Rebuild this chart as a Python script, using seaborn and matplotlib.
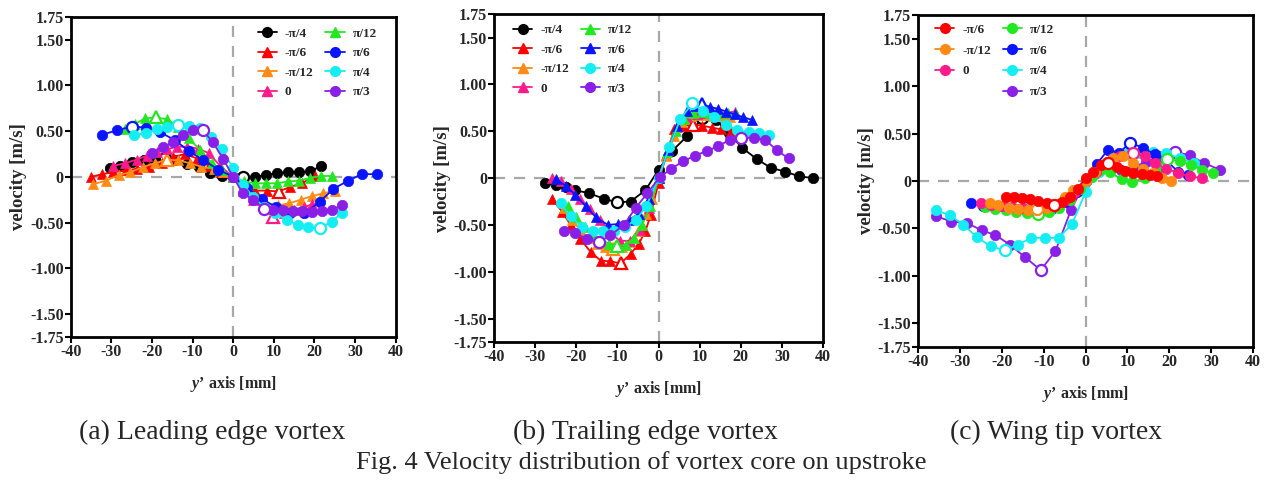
import matplotlib
matplotlib.use("Agg")
import matplotlib.pyplot as plt
import seaborn as sns
from matplotlib.lines import Line2D

# ---- data (y' in mm, velocity in m/s) ----
# (a) leading edge vortex
a_m4_x = [-30.3, -27.8, -25.0, -22.0, -19.6, -16.7, -14.3, -11.4, -8.5, -5.7, -2.8, 0.0, 2.5, 5.4, 8.0, 10.8, 13.6, 16.3, 19.0, 21.7]
a_m4_v = [0.10, 0.12, 0.16, 0.18, 0.20, 0.21, 0.18, 0.14, 0.11, 0.04, 0.01, 0.0, 0.0, 0.0, 0.02, 0.04, 0.05, 0.05, 0.06, 0.12]
a_m6_x = [-35.0, -32.3, -29.5, -26.5, -23.6, -20.6, -17.6, -14.7, -11.8, -8.8, -5.9, -2.9, 0.0, 2.7, 5.4, 8.3, 11.2, 14.0, 16.9, 20.2]
a_m6_v = [0.0, 0.03, 0.05, 0.07, 0.09, 0.11, 0.15, 0.22, 0.25, 0.20, 0.12, 0.05, 0.0, -0.08, -0.15, -0.15, -0.16, -0.11, -0.07, 0.01]
a_m12_x = [-34.4, -31.3, -28.2, -25.4, -22.1, -19.2, -16.3, -13.5, -10.6, -7.8, -4.8, -2.4, 0.0, 2.7, 5.4, 8.2, 11.0, 13.8, 16.6, 19.4, 22.2, 25.0]
a_m12_v = [-0.08, -0.04, 0.02, 0.05, 0.11, 0.15, 0.19, 0.18, 0.15, 0.11, 0.09, 0.05, 0.0, -0.10, -0.22, -0.29, -0.31, -0.29, -0.25, -0.21, -0.18, -0.15]
a_0_x = [-29.5, -26.6, -23.7, -21.3, -18.8, -16.3, -13.9, -11.3, -8.6, -6.0, -3.2, 0.0, 2.5, 5.0, 7.5, 9.8, 12.5, 15.0, 17.5, 19.5]
a_0_v = [0.12, 0.15, 0.19, 0.23, 0.27, 0.30, 0.33, 0.33, 0.31, 0.26, 0.12, 0.0, -0.15, -0.25, -0.33, -0.44, -0.40, -0.36, -0.33, -0.30]
a_p12_x = [-26.6, -24.1, -21.7, -19.0, -16.3, -13.6, -10.8, -8.1, -5.2, -2.8, 0.0, 2.7, 5.4, 8.0, 10.8, 13.6, 16.3, 19.0, 21.7, 24.3]
a_p12_v = [0.52, 0.58, 0.64, 0.65, 0.63, 0.55, 0.42, 0.29, 0.15, 0.07, 0.0, -0.05, -0.07, -0.07, -0.07, -0.05, -0.04, -0.01, 0.01, 0.01]
a_p6_x = [-32.3, -28.6, -25.0, -21.5, -18.0, -14.3, -10.8, -7.3, -3.6, 0.0, 3.5, 7.1, 10.5, 14.0, 17.5, 21.4, 24.7, 28.4, 31.7, 35.4]
a_p6_v = [0.46, 0.51, 0.55, 0.54, 0.49, 0.40, 0.28, 0.18, 0.08, 0.0, -0.12, -0.24, -0.33, -0.40, -0.40, -0.27, -0.13, -0.04, 0.03, 0.03]
a_p4_x = [-24.3, -21.5, -18.8, -16.3, -13.5, -10.8, -8.1, -5.5, -2.8, 0.0, 2.5, 5.0, 7.6, 10.3, 13.2, 16.1, 18.5, 21.4, 24.3, 26.8]
a_p4_v = [0.46, 0.48, 0.52, 0.55, 0.57, 0.56, 0.53, 0.44, 0.30, 0.10, -0.09, -0.22, -0.33, -0.40, -0.47, -0.53, -0.55, -0.56, -0.49, -0.39]
a_p3_x = [-20.0, -17.2, -14.7, -12.4, -9.9, -7.5, -5.0, -2.5, 0.0, 2.4, 5.0, 7.5, 9.9, 12.4, 14.7, 16.9, 19.4, 21.8, 24.3, 26.8]
a_p3_v = [0.26, 0.33, 0.38, 0.46, 0.51, 0.51, 0.38, 0.20, 0.0, -0.18, -0.25, -0.35, -0.36, -0.36, -0.37, -0.37, -0.38, -0.37, -0.36, -0.31]

# (b) trailing edge vortex
b_m4_x = [-27.5, -25.0, -22.6, -20.2, -17.0, -13.3, -10.0, -6.8, -3.2, 0.0, 3.3, 7.0, 10.6, 13.9, 17.1, 20.4, 24.0, 27.3, 30.7, 34.1, 37.5]
b_m4_v = [-0.05, -0.07, -0.10, -0.13, -0.16, -0.22, -0.26, -0.25, -0.13, 0.09, 0.29, 0.45, 0.64, 0.62, 0.48, 0.32, 0.20, 0.11, 0.07, 0.02, 0.0]
b_m6_x = [-26.0, -23.4, -21.4, -19.0, -16.5, -14.1, -11.7, -9.2, -6.8, -4.8, -3.2, -1.9, 0.0, 1.9, 3.8, 6.0, 8.3, 10.6, 12.9, 15.2, 17.5]
b_m6_v = [-0.22, -0.36, -0.50, -0.65, -0.79, -0.88, -0.89, -0.91, -0.81, -0.70, -0.57, -0.39, -0.05, 0.25, 0.52, 0.56, 0.57, 0.56, 0.54, 0.52, 0.50]
b_m12_x = [-23.0, -21.0, -19.0, -17.0, -15.0, -13.0, -11.0, -9.0, -7.0, -5.0, -3.0, -1.5, 0.0, 1.9, 3.8, 5.8, 7.7, 9.6, 11.5, 13.4, 15.4, 17.3]
b_m12_v = [-0.32, -0.45, -0.56, -0.64, -0.70, -0.74, -0.76, -0.74, -0.68, -0.56, -0.38, -0.22, 0.0, 0.24, 0.45, 0.60, 0.66, 0.67, 0.67, 0.66, 0.66, 0.65]
b_0_x = [-26.0, -23.7, -21.4, -19.0, -16.6, -14.2, -11.8, -9.4, -7.0, -4.6, -2.3, 0.0, 2.3, 4.6, 7.0, 9.3, 11.6, 14.0, 16.3, 18.7]
b_0_v = [0.0, -0.03, -0.12, -0.22, -0.33, -0.45, -0.58, -0.67, -0.67, -0.55, -0.32, 0.0, 0.30, 0.55, 0.65, 0.68, 0.69, 0.69, 0.70, 0.71]
b_p12_x = [-22.0, -20.0, -18.0, -16.0, -14.0, -12.0, -10.0, -8.0, -6.0, -4.0, -2.0, 0.0, 2.1, 4.2, 6.3, 8.4, 10.5, 12.6, 14.7, 16.8, 18.9]
b_p12_v = [-0.30, -0.42, -0.52, -0.60, -0.66, -0.70, -0.73, -0.71, -0.64, -0.50, -0.30, 0.0, 0.28, 0.50, 0.63, 0.69, 0.71, 0.70, 0.70, 0.69, 0.68]
b_p6_x = [-25.0, -22.6, -20.2, -17.7, -15.2, -12.3, -9.8, -7.3, -4.8, -2.4, 0.0, 2.3, 4.6, 6.9, 8.8, 10.6, 12.5, 14.5, 16.5, 18.5, 20.6, 22.8]
b_p6_v = [-0.01, -0.08, -0.18, -0.30, -0.42, -0.50, -0.49, -0.45, -0.38, -0.22, 0.0, 0.30, 0.56, 0.72, 0.77, 0.79, 0.76, 0.74, 0.71, 0.68, 0.65, 0.62]
b_p4_x = [-23.8, -21.4, -18.6, -16.0, -13.4, -10.8, -8.2, -5.6, -3.0, 0.0, 2.6, 5.3, 8.2, 10.8, 13.5, 16.3, 19.1, 22.0, 24.4, 26.8]
b_p4_v = [-0.27, -0.41, -0.52, -0.56, -0.57, -0.56, -0.52, -0.45, -0.30, 0.0, 0.33, 0.63, 0.80, 0.72, 0.65, 0.57, 0.51, 0.49, 0.48, 0.46]
b_p3_x = [-23.0, -20.2, -17.3, -14.5, -11.7, -8.4, -5.6, -2.7, 0.3, 3.1, 6.0, 8.9, 11.7, 14.5, 17.3, 20.1, 23.2, 25.9, 28.7, 31.6]
b_p3_v = [-0.56, -0.59, -0.65, -0.68, -0.61, -0.50, -0.32, -0.16, 0.01, 0.10, 0.18, 0.24, 0.29, 0.34, 0.41, 0.43, 0.43, 0.41, 0.30, 0.21]

# (c) wing tip vortex
c_m6_x = [-19.0, -17.0, -15.1, -13.3, -11.3, -9.3, -7.5, -5.7, -3.7, -1.9, 0.0, 1.8, 3.8, 5.4, 7.6, 9.4, 11.4, 13.4, 15.3, 17.0]
c_m6_v = [-0.17, -0.17, -0.18, -0.19, -0.21, -0.23, -0.25, -0.22, -0.17, -0.08, 0.03, 0.10, 0.17, 0.19, 0.15, 0.11, 0.08, 0.07, 0.06, 0.05]
c_m12_x = [-22.8, -20.8, -18.3, -16.1, -13.8, -11.5, -9.2, -6.9, -4.9, -2.9, 0.0, 2.2, 4.4, 6.6, 9.0, 11.4, 13.8, 16.2, 18.3, 20.5]
c_m12_v = [-0.23, -0.25, -0.28, -0.30, -0.31, -0.30, -0.28, -0.24, -0.17, -0.09, 0.0, 0.10, 0.18, 0.24, 0.26, 0.19, 0.13, 0.08, 0.03, 0.0]
c_0_x = [-25.0, -22.5, -20.0, -17.5, -15.0, -12.5, -10.0, -7.5, -5.0, -2.5, 0.0, 2.5, 5.2, 8.2, 11.4, 14.2, 16.5, 19.3, 22.1, 24.9, 27.7]
c_0_v = [-0.23, -0.25, -0.26, -0.27, -0.28, -0.28, -0.27, -0.25, -0.20, -0.12, 0.0, 0.10, 0.20, 0.26, 0.30, 0.26, 0.19, 0.13, 0.08, 0.05, 0.03]
c_p12_x = [-24.0, -21.5, -19.0, -16.5, -14.0, -11.3, -8.8, -6.3, -3.8, -1.3, 1.5, 3.5, 5.8, 8.6, 11.2, 14.2, 17.0, 19.5, 22.5, 25.3, 27.9, 30.5]
c_p12_v = [-0.27, -0.29, -0.31, -0.33, -0.34, -0.35, -0.33, -0.28, -0.20, -0.08, 0.04, 0.12, 0.09, 0.02, -0.01, 0.03, 0.13, 0.23, 0.21, 0.17, 0.12, 0.08]
c_p6_x = [-27.3, -24.5, -21.7, -18.9, -16.1, -13.3, -10.5, -7.7, -4.9, -2.1, 0.0, 2.7, 5.4, 8.0, 10.7, 13.8, 16.5, 19.3, 22.0, 24.5]
c_p6_v = [-0.23, -0.26, -0.27, -0.28, -0.30, -0.31, -0.30, -0.28, -0.22, -0.12, 0.0, 0.18, 0.33, 0.30, 0.40, 0.35, 0.28, 0.22, 0.10, 0.06]
c_p4_x = [-35.6, -32.4, -29.2, -26.0, -22.6, -19.3, -16.1, -12.9, -9.7, -6.4, -3.2, 0.0, 3.2, 6.4, 9.7, 12.9, 16.1, 19.3, 22.6, 25.8]
c_p4_v = [-0.31, -0.36, -0.46, -0.59, -0.69, -0.73, -0.67, -0.60, -0.60, -0.60, -0.45, -0.12, 0.10, 0.22, 0.28, 0.30, 0.31, 0.29, 0.24, 0.19]
c_p3_x = [-35.6, -32.0, -28.4, -24.8, -21.5, -18.1, -14.5, -10.7, -7.2, -3.5, 0.0, 2.5, 5.5, 8.5, 11.5, 14.5, 17.5, 21.3, 24.9, 28.3, 32.0]
c_p3_v = [-0.37, -0.43, -0.44, -0.52, -0.57, -0.67, -0.80, -0.94, -0.74, -0.31, 0.0, 0.08, 0.16, 0.12, 0.15, 0.20, 0.26, 0.31, 0.27, 0.19, 0.12]

# points drawn as open markers (extrema)
a_open = [[5, 12], [16], [6], [15], [3], [2], [4, 17], [5, 11]]
b_open = [[6, 12], [7, 16], [6], [], [6], [15], [12], [3, 15]]
c_open = [[6, 13], [5], [14], [5, 17], [14], [5], [7, 17]]

angle_labels = ['-π/4', '-π/6', '-π/12', '0', 'π/12', 'π/6', 'π/4', 'π/3']
y_ticks = [-1.75, -1.5, -1.0, -0.5, 0, 0.5, 1.0, 1.5, 1.75]
y_tick_labels = ['-1.75', '-1.50', '-1.00', '-0.50', '0', '0.50', '1.00', '1.50', '1.75']
x_ticks = [-40, -30, -20, -10, 0, 10, 20, 30, 40]
captions = ['(a) Leading edge vortex', '(b) Trailing edge vortex', '(c) Wing tip vortex']
fig_title = 'Fig. 4 Velocity distribution of vortex core on upstroke'

colors = {'-π/4': 'black', '-π/6': '#ff0000', '-π/12': '#ff8a14', '0': '#ff1a8c',
          'π/12': '#22e822', 'π/6': '#0a14ff', 'π/4': '#14eef2', 'π/3': '#8a1fe8'}

panel_a = list(zip(angle_labels,
                   [a_m4_x, a_m6_x, a_m12_x, a_0_x, a_p12_x, a_p6_x, a_p4_x, a_p3_x],
                   [a_m4_v, a_m6_v, a_m12_v, a_0_v, a_p12_v, a_p6_v, a_p4_v, a_p3_v],
                   ['o', '^', '^', '^', '^', 'o', 'o', 'o'], a_open))
panel_b = list(zip(angle_labels,
                   [b_m4_x, b_m6_x, b_m12_x, b_0_x, b_p12_x, b_p6_x, b_p4_x, b_p3_x],
                   [b_m4_v, b_m6_v, b_m12_v, b_0_v, b_p12_v, b_p6_v, b_p4_v, b_p3_v],
                   ['o', '^', '^', '^', '^', '^', 'o', 'o'], b_open))
panel_c = list(zip(angle_labels[1:],
                   [c_m6_x, c_m12_x, c_0_x, c_p12_x, c_p6_x, c_p4_x, c_p3_x],
                   [c_m6_v, c_m12_v, c_0_v, c_p12_v, c_p6_v, c_p4_v, c_p3_v],
                   ['o'] * 7, c_open))

sns.set_theme(style='ticks')
plt.rcParams['font.family'] = ['Liberation Serif', 'DejaVu Serif']
plt.rcParams['axes.unicode_minus'] = False
plt.rcParams['mathtext.fontset'] = 'custom'
plt.rcParams['mathtext.bfit'] = 'Liberation Serif:italic:bold'
plt.rcParams['mathtext.rm'] = 'Liberation Serif:bold'

fig = plt.figure(figsize=(12.69, 4.82), dpi=100)
rects = [[0.0557, 0.301, 0.256, 0.664],
         [0.3893, 0.2905, 0.2593, 0.680],
         [0.7234, 0.280, 0.264, 0.689]]
axes = [fig.add_axes(r) for r in rects]


def draw_panel(ax, series, anchor, spacing, reverse=False, blank_at=None):
    ax.axhline(0, color='#a8a8a8', ls=(0, (5, 4)), lw=1.6, zorder=1)
    ax.axvline(0, color='#a8a8a8', ls=(0, (5, 4)), lw=1.6, zorder=1)
    handles = {}
    order = series[::-1] if reverse else series
    for lab, xs, vs, mk, opn in order:
        c = colors[lab]
        sns.lineplot(x=xs, y=vs, sort=False, estimator=None, marker=mk, color=c,
                     markersize=7.5, markeredgecolor=c, markeredgewidth=0.5,
                     linewidth=1.3, ax=ax)
        for i in opn:
            ax.plot(xs[i], vs[i], marker=mk, ms=8, mfc='white', mec=c, mew=1.6, ls='none')
        handles[lab] = Line2D([], [], color=c, marker=mk, markersize=7,
                              markeredgecolor=c, linewidth=1.3)
    labs = [s[0] for s in series]
    hs = [handles[l] for l in labs]
    if blank_at is not None:
        hs.insert(blank_at, Line2D([], [], ls='none', marker='none'))
        labs.insert(blank_at, '')
    ax.legend(hs, labs, loc='upper left', bbox_to_anchor=anchor, ncol=2, frameon=False,
              handlelength=1.45, columnspacing=0.9, labelspacing=spacing, handletextpad=0.6,
              borderpad=0, borderaxespad=0,
              prop={'family': 'Liberation Serif', 'weight': 'bold', 'size': 9.5})

    ax.set_xlim(-40, 40)
    ax.set_ylim(-1.75, 1.75)
    ax.set_xticks(x_ticks)
    ax.set_xticklabels([str(t) for t in x_ticks], fontweight='bold', fontsize=11.5)
    ax.set_yticks(y_ticks)
    ax.set_yticklabels(y_tick_labels, fontweight='bold', fontsize=11.5)
    ax.tick_params(direction='out', length=4, width=1.5, pad=1, color='black')
    for sp in ax.spines.values():
        sp.set_visible(True)
        sp.set_linewidth(2.0)
        sp.set_color('black')
    ax.set_xlabel(r'$\mathbfit{y}$’ axis [mm]', fontweight='bold', fontsize=11.5, labelpad=10)
    ax.set_ylabel('velocity [m/s]', fontweight='bold', fontsize=13.5, labelpad=2)


draw_panel(axes[0], panel_a, (0.576, 0.966), 0.55)
draw_panel(axes[1], panel_b, (0.058, 0.970), 0.55)
draw_panel(axes[2], panel_c, (0.051, 0.974), 0.65, reverse=True, blank_at=3)

for x, cap in zip([0.167, 0.509, 0.832], captions):
    fig.text(x, 0.102, cap, ha='center', va='center', fontsize=20)
fig.text(0.505, 0.041, fig_title, ha='center', va='center', fontsize=19)

fig.savefig('out.png', dpi=100)
